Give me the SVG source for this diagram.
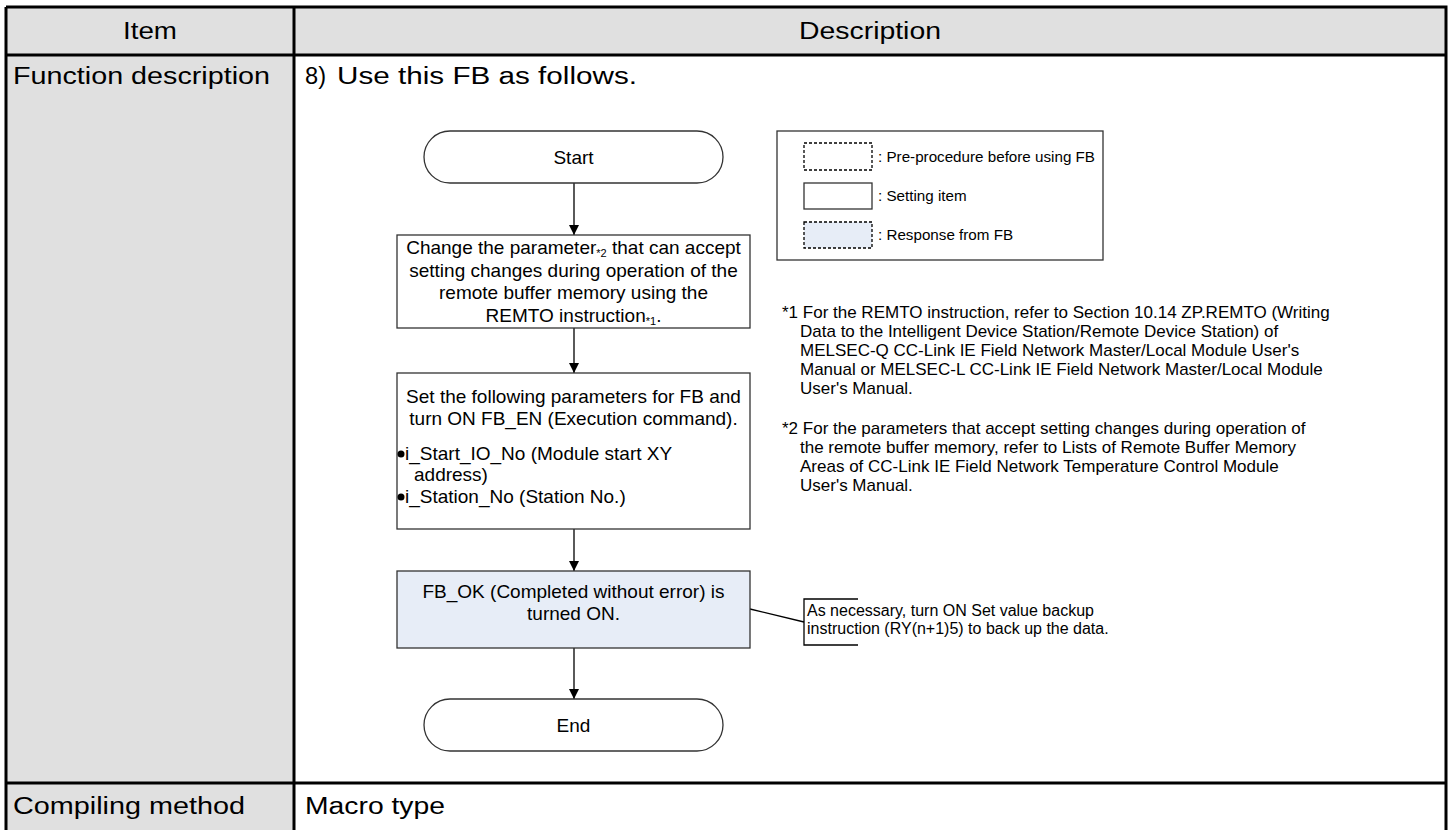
<svg xmlns="http://www.w3.org/2000/svg" width="1454" height="830" viewBox="0 0 1454 830">
<defs>
<marker id="arr" viewBox="0 0 10 10" refX="10" refY="5" markerWidth="10" markerHeight="10" markerUnits="userSpaceOnUse" orient="auto">
<path d="M0,0 L10,5 L0,10 z" fill="#000"/>
</marker>
</defs>
<style>
.t{font-family:"Liberation Sans",Arial,sans-serif;fill:#000}
.tb{font-size:23px}
.fc{font-size:19px}
.lg{font-size:15.2px}
.fn{font-size:17px}
.nt{font-size:16px}
.grid{stroke:#000;stroke-width:3;fill:none}
.box{fill:#fff;stroke:#333;stroke-width:1.3}
.resp{fill:#e7edf7;stroke:#333;stroke-width:1.3}
.conn{stroke:#000;stroke-width:1.3;fill:none}
</style>
<rect x="0" y="0" width="1454" height="830" fill="#fff"/>
<g id="table">
<rect x="6" y="7" width="1440" height="48" fill="#e0e0e0"/>
<rect x="6" y="55" width="288" height="728" fill="#e0e0e0"/>
<rect x="6" y="783" width="288" height="60" fill="#e0e0e0"/>
<path class="grid" d="M6,7 H1446 V843 M6,7 V843 M6,55 H1446 M6,783 H1446 M294,7 V843"/>
<text class="t tb" x="123" y="39" textLength="54" lengthAdjust="spacingAndGlyphs">Item</text>
<text class="t tb" x="799" y="39" textLength="142" lengthAdjust="spacingAndGlyphs">Description</text>
<text class="t tb" x="13" y="84" textLength="257" lengthAdjust="spacingAndGlyphs">Function description</text>
<text class="t tb" x="305" y="84" textLength="21" lengthAdjust="spacingAndGlyphs">8)</text>
<text class="t tb" x="337" y="84" textLength="300" lengthAdjust="spacingAndGlyphs">Use this FB as follows.</text>
<text class="t tb" x="13" y="814" textLength="232" lengthAdjust="spacingAndGlyphs">Compiling method</text>
<text class="t tb" x="305" y="814" textLength="140" lengthAdjust="spacingAndGlyphs">Macro type</text>
</g>
<g id="connectors">
<line class="conn" x1="574" y1="183" x2="574" y2="235" marker-end="url(#arr)"/>
<line class="conn" x1="574" y1="328" x2="574" y2="373" marker-end="url(#arr)"/>
<line class="conn" x1="574" y1="529" x2="574" y2="571" marker-end="url(#arr)"/>
<line class="conn" x1="574" y1="648" x2="574" y2="699" marker-end="url(#arr)"/>
<line class="conn" x1="750" y1="609" x2="804" y2="622"/>
</g>
<g id="start">
<rect class="box" x="424" y="131" width="299" height="52" rx="26" ry="26"/>
<text class="t fc" x="573.5" y="164" text-anchor="middle">Start</text>
</g>
<g id="step1">
<rect class="box" x="397" y="235" width="353" height="93"/>
<text class="t fc" x="573.5" y="254" text-anchor="middle">Change the parameter<tspan font-size="11" dy="3">*2</tspan><tspan dy="-3"> that can accept</tspan></text>
<text class="t fc" x="573.5" y="277" text-anchor="middle">setting changes during operation of the</text>
<text class="t fc" x="573.5" y="299" text-anchor="middle">remote buffer memory using the</text>
<text class="t fc" x="573.5" y="322" text-anchor="middle">REMTO instruction<tspan font-size="11" dy="3">*1</tspan><tspan dy="-3">.</tspan></text>
</g>
<g id="step2">
<rect class="box" x="397" y="373" width="353" height="156"/>
<text class="t fc" x="573.5" y="403" text-anchor="middle">Set the following parameters for FB and</text>
<text class="t fc" x="573.5" y="425" text-anchor="middle">turn ON FB_EN (Execution command).</text>
<circle cx="401" cy="454" r="3.5" fill="#000"/>
<text class="t fc" x="405" y="460">i_Start_IO_No (Module start XY</text>
<text class="t fc" x="414" y="481">address)</text>
<circle cx="401" cy="497" r="3.5" fill="#000"/>
<text class="t fc" x="405" y="503">i_Station_No (Station No.)</text>
</g>
<g id="step3">
<rect class="resp" x="397" y="571" width="353" height="77"/>
<text class="t fc" x="573.5" y="598" text-anchor="middle">FB_OK (Completed without error) is</text>
<text class="t fc" x="573.5" y="620" text-anchor="middle">turned ON.</text>
</g>
<g id="end">
<rect class="box" x="424" y="699" width="299" height="52" rx="26" ry="26"/>
<text class="t fc" x="573.5" y="732" text-anchor="middle">End</text>
</g>
<g id="note">
<path class="conn" d="M858,599 H804 V645 H858"/>
<text class="t nt" x="807" y="616">As necessary, turn ON Set value backup</text>
<text class="t nt" x="807" y="634">instruction (RY(n+1)5) to back up the data.</text>
</g>
<g id="legend">
<rect x="777" y="131" width="326" height="129" fill="#fff" stroke="#333" stroke-width="1.3"/>
<rect x="804" y="143" width="68" height="27" fill="#fff" stroke="#000" stroke-width="1.3" stroke-dasharray="3,2"/>
<rect x="804" y="183" width="68" height="26" fill="#fff" stroke="#333" stroke-width="1.3"/>
<rect x="804" y="222" width="68" height="26" fill="#e7edf7" stroke="#000" stroke-width="1.3" stroke-dasharray="3,2"/>
<text class="t lg" x="878" y="162">: Pre-procedure before using FB</text>
<text class="t lg" x="878" y="201">: Setting item</text>
<text class="t lg" x="878" y="240">: Response from FB</text>
</g>
<g id="footnotes">
<text class="t fn" x="782" y="318">*1 For the REMTO instruction, refer to Section 10.14 ZP.REMTO (Writing</text>
<text class="t fn" x="800" y="337">Data to the Intelligent Device Station/Remote Device Station) of</text>
<text class="t fn" x="800" y="356">MELSEC-Q CC-Link IE Field Network Master/Local Module User's</text>
<text class="t fn" x="800" y="375">Manual or MELSEC-L CC-Link IE Field Network Master/Local Module</text>
<text class="t fn" x="800" y="394">User's Manual.</text>
<text class="t fn" x="782" y="434">*2 For the parameters that accept setting changes during operation of</text>
<text class="t fn" x="800" y="453">the remote buffer memory, refer to Lists of Remote Buffer Memory</text>
<text class="t fn" x="800" y="472">Areas of CC-Link IE Field Network Temperature Control Module</text>
<text class="t fn" x="800" y="491">User's Manual.</text>
</g>
</svg>
